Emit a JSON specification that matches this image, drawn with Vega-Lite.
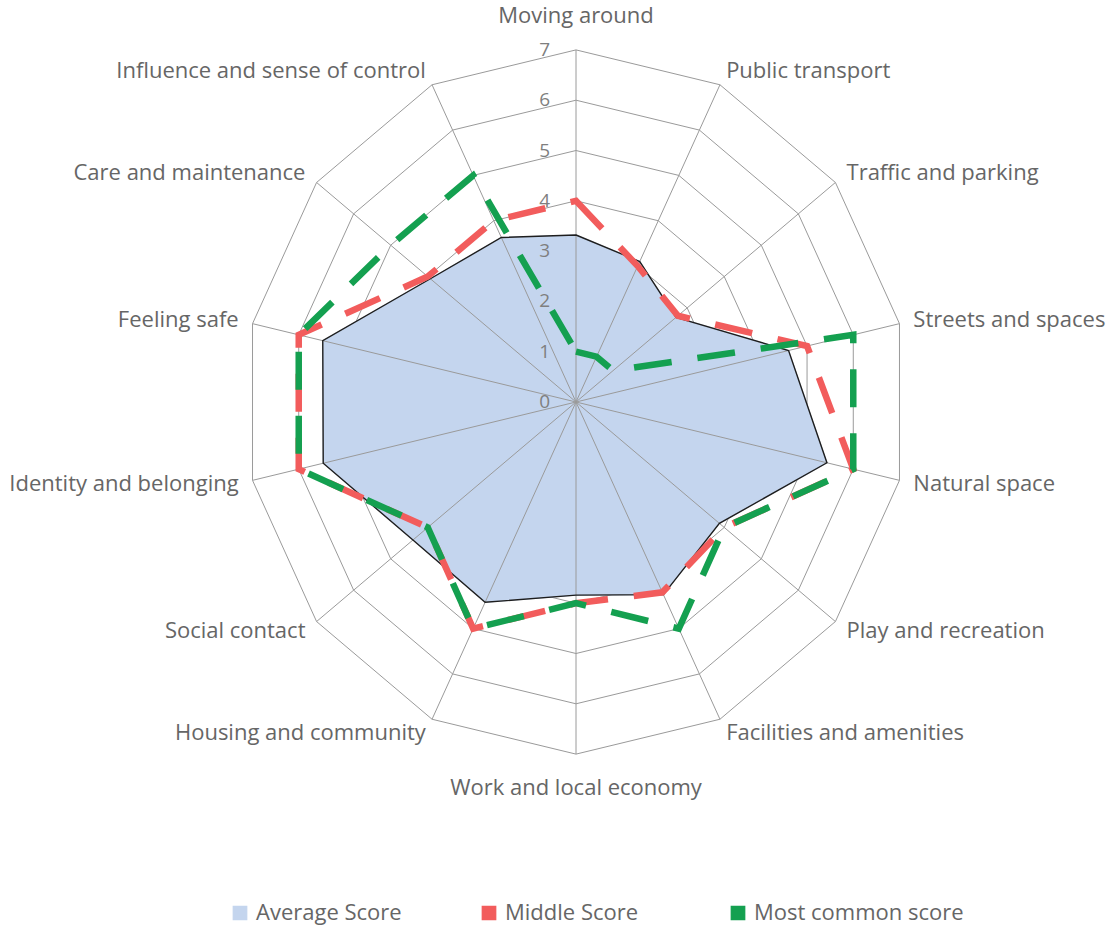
{
  "$schema": "https://vega.github.io/schema/vega-lite/v6.json",
  "width": 1111,
  "height": 928,
  "autosize": {"type": "none"},
  "padding": 0,
  "background": "white",
  "config": {"view": {"stroke": null}, "font": "Open Sans"},
  "datasets": {
    "scores": [
      {"category": "Moving around", "average": 3.32, "middle": 4, "mode": 1},
      {"category": "Public transport", "average": 3.1, "middle": 3, "mode": 1},
      {"category": "Traffic and parking", "average": 2.7, "middle": 2.75, "mode": 1},
      {"category": "Streets and spaces", "average": 4.6, "middle": 5, "mode": 6},
      {"category": "Natural space", "average": 5.43, "middle": 6, "mode": 6},
      {"category": "Play and recreation", "average": 3.87, "middle": 4, "mode": 4},
      {"category": "Facilities and amenities", "average": 4.25, "middle": 4.2, "mode": 5},
      {"category": "Work and local economy", "average": 3.84, "middle": 4, "mode": 4},
      {"category": "Housing and community", "average": 4.42, "middle": 5, "mode": 5},
      {"category": "Social contact", "average": 4.4, "middle": 4, "mode": 4},
      {"category": "Identity and belonging", "average": 5.47, "middle": 6, "mode": 6},
      {"category": "Feeling safe", "average": 5.48, "middle": 6, "mode": 6},
      {"category": "Care and maintenance", "average": 3.93, "middle": 4, "mode": 5},
      {"category": "Influence and sense of control", "average": 3.63, "middle": 4, "mode": 5}
    ],
    "levels": [
      {"level": 0}, {"level": 1}, {"level": 2}, {"level": 3},
      {"level": 4}, {"level": 5}, {"level": 6}, {"level": 7}
    ]
  },
  "encoding": {
    "x": {"field": "px", "type": "quantitative", "scale": {"domain": [-12.152, 11.287], "nice": false, "zero": false}, "axis": null},
    "y": {"field": "py", "type": "quantitative", "scale": {"domain": [-10.457, 7.992], "nice": false, "zero": false}, "axis": null}
  },
  "layer": [
    {
      "data": {"name": "scores"},
      "transform": [
        {"filter": "false"},
        {"calculate": "0", "as": "px"},
        {"calculate": "0", "as": "py"}
      ],
      "mark": {"type": "square", "filled": true, "size": 180, "opacity": 1},
      "encoding": {
        "color": {
          "datum": "Average Score",
          "type": "nominal",
          "scale": {"domain": ["Average Score", "Middle Score", "Most common score"], "range": ["#C4D5EE", "#F25C5C", "#14A050"]},
          "legend": {
            "title": null,
            "orient": "none",
            "legendX": 229,
            "legendY": 902,
            "direction": "horizontal",
            "columns": 3,
            "gridAlign": "all",
            "columnPadding": 12,
            "symbolType": "square",
            "symbolSize": 180,
            "symbolOpacity": 1,
            "labelFontSize": 22,
            "labelFont": "Open Sans",
            "labelColor": "#666666",
            "labelOffset": 5,
            "labelLimit": 400,
            "encode": {
              "symbols": {
                "update": {
                  "stroke": {"signal": "datum.value === 'Average Score' ? '#333333' : 'transparent'"},
                  "strokeWidth": {"value": 1.3}
                }
              }
            }
          }
        }
      }
    },
    {
      "data": {"name": "scores"},
      "transform": [
        {"window": [{"op": "row_number", "as": "rn"}]},
        {"calculate": "(datum.rn - 1) * 2 * PI / 14", "as": "theta"},
        {"calculate": "[1,2,3,4,5,6,7]", "as": "lv"},
        {"flatten": ["lv"]},
        {"calculate": "datum.lv * sin(datum.theta)", "as": "px"},
        {"calculate": "datum.lv * cos(datum.theta)", "as": "py"}
      ],
      "mark": {"type": "line", "interpolate": "linear-closed", "stroke": "#9a9a9a", "strokeWidth": 1},
      "encoding": {"detail": {"field": "lv", "type": "nominal"}, "order": {"field": "rn", "type": "quantitative"}}
    },
    {
      "data": {"name": "scores"},
      "transform": [
        {"window": [{"op": "row_number", "as": "rn"}]},
        {"calculate": "(datum.rn - 1) * 2 * PI / 14", "as": "theta"},
        {"calculate": "datum.average * sin(datum.theta)", "as": "px"},
        {"calculate": "datum.average * cos(datum.theta)", "as": "py"}
      ],
      "mark": {"type": "line", "interpolate": "linear-closed", "fill": "#C4D5EE", "stroke": "#C4D5EE", "strokeWidth": 1},
      "encoding": {"order": {"field": "rn", "type": "quantitative"}}
    },
    {
      "data": {"name": "scores"},
      "transform": [
        {"window": [{"op": "row_number", "as": "rn"}]},
        {"calculate": "(datum.rn - 1) * 2 * PI / 14", "as": "theta"},
        {"calculate": "7 * sin(datum.theta)", "as": "px"},
        {"calculate": "7 * cos(datum.theta)", "as": "py"}
      ],
      "mark": {"type": "rule", "stroke": "#9a9a9a", "strokeWidth": 1},
      "encoding": {"x2": {"datum": 0}, "y2": {"datum": 0}}
    },
    {
      "data": {"name": "scores"},
      "transform": [
        {"window": [{"op": "row_number", "as": "rn"}]},
        {"calculate": "(datum.rn - 1) * 2 * PI / 14", "as": "theta"},
        {"calculate": "datum.average * sin(datum.theta)", "as": "px"},
        {"calculate": "datum.average * cos(datum.theta)", "as": "py"}
      ],
      "mark": {"type": "line", "interpolate": "linear-closed", "stroke": "#1e1e1e", "strokeWidth": 1.4},
      "encoding": {"order": {"field": "rn", "type": "quantitative"}}
    },
    {
      "data": {"name": "levels"},
      "transform": [
        {"calculate": "0", "as": "px"},
        {"calculate": "datum.level", "as": "py"}
      ],
      "mark": {"type": "text", "align": "right", "baseline": "middle", "dx": -26, "fontSize": 19, "fill": "#7f7f7f", "font": "Open Sans"},
      "encoding": {"text": {"field": "level", "type": "quantitative"}}
    },
    {
      "data": {"name": "scores"},
      "transform": [
        {"window": [{"op": "row_number", "as": "rn"}]},
        {"calculate": "(datum.rn - 1) * 2 * PI / 14", "as": "theta"},
        {"calculate": "datum.middle * sin(datum.theta)", "as": "px"},
        {"calculate": "datum.middle * cos(datum.theta)", "as": "py"}
      ],
      "mark": {"type": "line", "interpolate": "linear-closed", "strokeWidth": 6.5, "strokeDash": [38, 26], "strokeCap": "butt"},
      "encoding": {
        "order": {"field": "rn", "type": "quantitative"},
        "color": {"datum": "Middle Score", "type": "nominal", "scale": {"domain": ["Average Score", "Middle Score", "Most common score"], "range": ["#C4D5EE", "#F25C5C", "#14A050"]}}
      }
    },
    {
      "data": {"name": "scores"},
      "transform": [
        {"window": [{"op": "row_number", "as": "rn"}]},
        {"calculate": "(datum.rn - 1) * 2 * PI / 14", "as": "theta"},
        {"calculate": "datum.mode * sin(datum.theta)", "as": "px"},
        {"calculate": "datum.mode * cos(datum.theta)", "as": "py"}
      ],
      "mark": {"type": "line", "interpolate": "linear-closed", "strokeWidth": 6.5, "strokeDash": [38, 26], "strokeCap": "butt"},
      "encoding": {
        "order": {"field": "rn", "type": "quantitative"},
        "color": {"datum": "Most common score", "type": "nominal", "scale": {"domain": ["Average Score", "Middle Score", "Most common score"], "range": ["#C4D5EE", "#F25C5C", "#14A050"]}}
      }
    },
    {
      "data": {"name": "scores"},
      "transform": [
        {"window": [{"op": "row_number", "as": "rn"}]},
        {"filter": "datum.rn >= 2 && datum.rn <= 7"},
        {"calculate": "(datum.rn - 1) * 2 * PI / 14", "as": "theta"},
        {"calculate": "7.3 * sin(datum.theta)", "as": "px"},
        {"calculate": "7.3 * cos(datum.theta)", "as": "py"}
      ],
      "mark": {"type": "text", "align": "left", "baseline": "middle", "fontSize": 22, "fill": "#666666", "font": "Open Sans"},
      "encoding": {"text": {"field": "category", "type": "nominal"}}
    },
    {
      "data": {"name": "scores"},
      "transform": [
        {"window": [{"op": "row_number", "as": "rn"}]},
        {"filter": "datum.rn >= 9"},
        {"calculate": "(datum.rn - 1) * 2 * PI / 14", "as": "theta"},
        {"calculate": "7.3 * sin(datum.theta)", "as": "px"},
        {"calculate": "7.3 * cos(datum.theta)", "as": "py"}
      ],
      "mark": {"type": "text", "align": "right", "baseline": "middle", "fontSize": 22, "fill": "#666666", "font": "Open Sans"},
      "encoding": {"text": {"field": "category", "type": "nominal"}}
    },
    {
      "data": {"name": "scores"},
      "transform": [
        {"window": [{"op": "row_number", "as": "rn"}]},
        {"filter": "datum.rn == 1 || datum.rn == 8"},
        {"calculate": "(datum.rn - 1) * 2 * PI / 14", "as": "theta"},
        {"calculate": "7.67 * sin(datum.theta)", "as": "px"},
        {"calculate": "7.67 * cos(datum.theta)", "as": "py"}
      ],
      "mark": {"type": "text", "align": "center", "baseline": "middle", "fontSize": 22, "fill": "#666666", "font": "Open Sans"},
      "encoding": {"text": {"field": "category", "type": "nominal"}}
    }
  ]
}
